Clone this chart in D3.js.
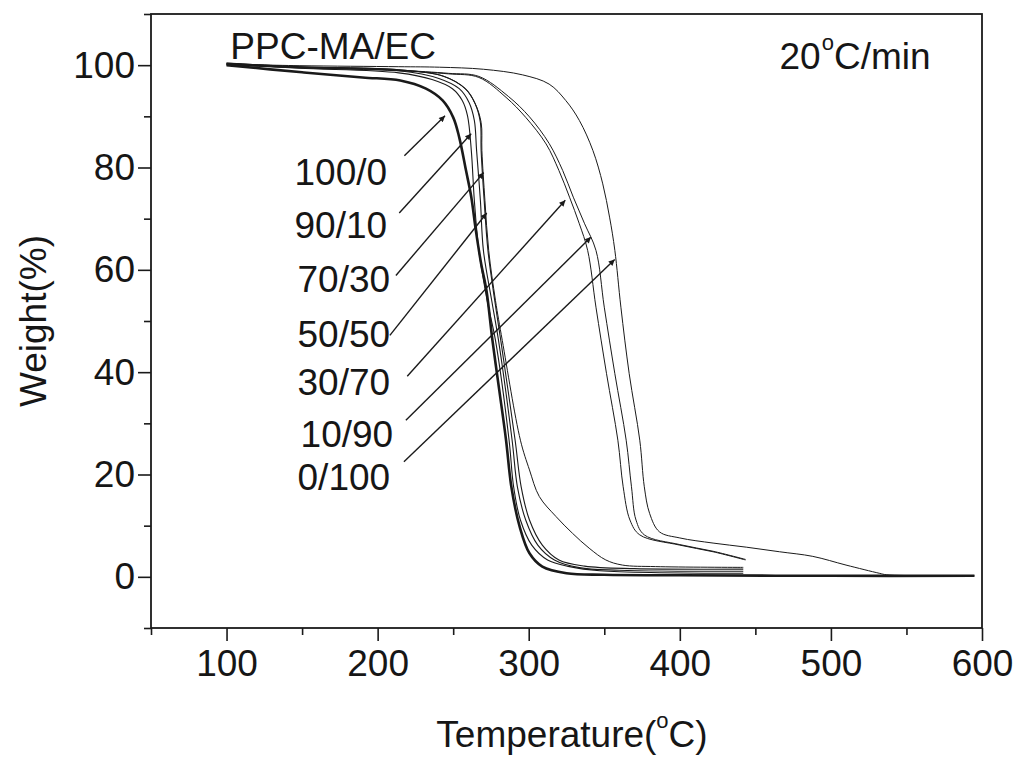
<!DOCTYPE html>
<html>
<head>
<meta charset="utf-8">
<script src="https://cdn.jsdelivr.net/npm/d3@7"></script>
<style>
  body { margin: 0; background: #fff; }
  text { font-family: "Liberation Sans", Arial, sans-serif; fill: #161616; }
</style>
</head>
<body>
<div id="chart"></div>
<script>

// TGA curves, temperature (C) / weight (%)
var t_100_0 = [100,150,190,215,232,243,250,254,258.5,262,265,268.5,272,276,280.5,285,288.5,294,300.5,309,325,350,400,500,595];
var w_100_0 = [100,98.6,97.6,97,95.4,93.1,89.8,85.9,79.4,74.2,67.7,61.2,56,46.2,36.5,26.7,17.6,9.8,4.6,2,0.7,0.4,0.3,0.2,0.2];

var t_90_10 = [100,148,214,236,249.5,256,259.5,262,264,267,272.5,278,287,290,294.5,302,312.5,327,347,442];
var w_90_10 = [100.2,99.4,98.5,97.2,95.4,93.1,90.1,83.3,73.6,63.8,54,46.2,26.7,17.6,11.1,6.2,3.3,2,1.2,0.7];

var t_70_30 = [100,148,214,240.5,254,260.5,264,265.5,268,270,275.5,280,289,292.5,298,306,317,333.5,360,442];
var w_70_30 = [100.3,99.5,98.9,97.4,95.4,92.7,89.2,83.3,73.6,63.8,54,46.2,26.7,17.6,11.1,6.2,3.3,1.8,1.3,1.1];

var t_50_50 = [100,148,214,244,258,264.5,268,268.5,270.5,273,277.5,281.5,291,295,300.5,309,320,337,370,442];
var w_50_50 = [100.4,99.7,99.1,97.8,95.4,92.5,88.8,83.3,73.6,63.8,54,46.2,26.7,17.6,11.1,6.2,3.3,2.1,1.6,1.5];

// one more trace in the low-temperature bundle, no arrow points at it
var t_extra = [100,148,214,244,258,264.5,268.5,269,271,273.5,278,282.5,294.5,300.5,307,318,329,340,351,362,384,442];
var w_extra = [100.4,99.7,99.1,97.8,95.4,92.5,88.8,83.3,73.6,63.8,54,46.2,26.7,20.9,15.7,11.8,8.5,5.6,3.3,2.3,2,1.85];

var t_30_70 = [100,148,214,247,267,285,298,311.5,320,327,333.5,339,344.5,351.5,359,362.5,367,373.5,400,422,443.5];
var w_30_70 = [100,99.5,98.9,98.3,97.6,93.7,89.8,84.6,79.4,74.2,69,63.8,52.7,39.7,26.7,17.6,11.1,8.2,6.2,4.9,3.3];

var t_10_90 = [100,148,214,247,267,286.5,300.5,313.5,322.5,329.5,337,344.5,350,357,364.5,368,371,376.5,400,422,443.5];
var w_10_90 = [100.1,99.6,99,98.4,97.8,93.9,89.9,84.7,79.4,74.2,69,63.8,52.7,39.7,26.7,17.6,11.1,8.2,6.3,5,3.4];

var t_0_100 = [100,148,214,241,270,296,313.5,324.5,333.5,342.5,349,353.5,357,361,366.5,373.5,376.5,380,386.5,400,422,444,466,488,510,532,537,595];
var w_0_100 = [100.2,99.9,99.7,99.6,99.2,98.1,96.3,93.1,89.2,83.3,76.8,70.3,63.8,52.7,39.7,26.7,17.6,12.4,8.8,7.6,6.6,5.8,4.9,4,2.3,0.7,0.4,0.2];

// annotation labels and arrows (data units)
var labels = ['100/0','90/10','70/30','50/50','30/70','10/90','0/100'];
var labelT = [145,145,147,147,147,149,147];
var labelW = [76.5,66.3,55.6,44.9,35.5,25.4,17.0];
var arrowFromT = [217.7,214.3,212.1,208.1,219.6,218.7,217.4];
var arrowFromW = [82.3,71.1,58.9,47.2,39.2,30.6,22.5];
var arrowToT = [244.6,261.9,270.2,272.2,324.2,341.2,356.9];
var arrowToW = [90.1,86.6,79.0,71.1,73.6,66.4,62.0];

var xMajor = [100,200,300,400,500,600];
var xMinor = [50,150,250,350,450,550];
var yMajor = [0,20,40,60,80,100];
var yMinor = [-10,10,30,50,70,90,110];

var width = 1015, height = 757;
var margin = {left:151, right:33, top:14, bottom:129};

var svg = d3.select("#chart").append("svg")
    .attr("width", width).attr("height", height);

var x = d3.scaleLinear().domain([50,600]).range([margin.left, width - margin.right]);
var y = d3.scaleLinear().domain([-10,110]).range([height - margin.bottom, margin.top]);

var series = [
    {t:t_100_0, w:w_100_0, sw:2.6},
    {t:t_90_10, w:w_90_10, sw:1.1},
    {t:t_70_30, w:w_70_30, sw:1.1},
    {t:t_50_50, w:w_50_50, sw:1.1},
    {t:t_extra, w:w_extra, sw:1.0},
    {t:t_30_70, w:w_30_70, sw:1.0},
    {t:t_10_90, w:w_10_90, sw:1.0},
    {t:t_0_100, w:w_0_100, sw:1.0}
];

// centripetal catmull-rom: goes through the read points, copes with the near vertical drops
var line = d3.line()
    .x(function(d){ return x(d[0]); })
    .y(function(d){ return y(d[1]); })
    .curve(d3.curveCatmullRom.alpha(0.5));

svg.append("g").selectAll("path")
    .data(series)
    .enter().append("path")
    .attr("d", function(s){ return line(d3.zip(s.t, s.w)); })
    .attr("fill", "none")
    .attr("stroke", "#1a1a1a")
    .attr("stroke-width", function(s){ return s.sw; });

// axes
var fs = 37;
svg.append("g")
    .attr("transform", "translate(0," + y(-10) + ")")
    .call(d3.axisBottom(x).tickValues(xMajor).tickSize(13).tickPadding(9).tickFormat(d3.format("d")));
svg.append("g")
    .attr("transform", "translate(0," + y(-10) + ")")
    .call(d3.axisBottom(x).tickValues(xMinor).tickSize(7).tickFormat(""));
svg.append("g")
    .attr("transform", "translate(" + x(50) + ",0)")
    .call(d3.axisLeft(y).tickValues(yMajor).tickSize(13).tickPadding(3).tickFormat(d3.format("d")));
svg.append("g")
    .attr("transform", "translate(" + x(50) + ",0)")
    .call(d3.axisLeft(y).tickValues(yMinor).tickSize(7).tickFormat(""));

svg.selectAll(".domain").remove();
svg.selectAll(".tick line").attr("stroke", "#1a1a1a").attr("stroke-width", 1.6);
svg.selectAll(".tick text").attr("font-size", fs).attr("font-family", null).attr("fill", "#161616");

svg.append("rect")
    .attr("x", x(50)).attr("y", y(110))
    .attr("width", x(600) - x(50)).attr("height", y(-10) - y(110))
    .attr("fill", "none").attr("stroke", "#1a1a1a").attr("stroke-width", 1.8);

// arrows
svg.append("defs").append("marker")
    .attr("id", "head")
    .attr("viewBox", "0 0 10 10")
    .attr("refX", 10).attr("refY", 5)
    .attr("markerWidth", 10).attr("markerHeight", 6)
    .attr("markerUnits", "userSpaceOnUse")
    .attr("orient", "auto")
    .append("path").attr("d", "M0,0 L10,5 L0,10 Z").attr("fill", "#1a1a1a");

svg.append("g").selectAll("line")
    .data(labels)
    .enter().append("line")
    .attr("x1", function(d,i){ return x(arrowFromT[i]); })
    .attr("y1", function(d,i){ return y(arrowFromW[i]); })
    .attr("x2", function(d,i){ return x(arrowToT[i]); })
    .attr("y2", function(d,i){ return y(arrowToW[i]); })
    .attr("stroke", "#1a1a1a").attr("stroke-width", 1.4)
    .attr("marker-end", "url(#head)");

svg.append("g").selectAll("text")
    .data(labels)
    .enter().append("text")
    .attr("x", function(d,i){ return x(labelT[i]); })
    .attr("y", function(d,i){ return y(labelW[i]); })
    .attr("font-size", fs)
    .text(function(d){ return d; });

// in-plot texts
svg.append("text")
    .attr("x", x(102.5)).attr("y", y(101.3))
    .attr("font-size", fs)
    .text("PPC-MA/EC");

var rate = svg.append("text")
    .attr("x", x(466)).attr("y", y(99.3))
    .attr("font-size", fs);
rate.append("tspan").text("20");
rate.append("tspan").attr("font-size", 22).attr("dy", -19).attr("dx", 1).text("o");
rate.append("tspan").attr("dy", 19).text("C/min");

// axis titles
var xt = svg.append("text")
    .attr("x", 572).attr("y", 747)
    .attr("text-anchor", "middle")
    .attr("font-size", fs);
xt.append("tspan").text("Temperature(");
xt.append("tspan").attr("font-size", 22).attr("dy", -19).text("o");
xt.append("tspan").attr("dy", 19).text("C)");

svg.append("text")
    .attr("transform", "translate(46," + ((y(-10) + y(110)) / 2) + ") rotate(-90)")
    .attr("text-anchor", "middle")
    .attr("font-size", fs)
    .text("Weight(%)");

</script>
</body>
</html>
